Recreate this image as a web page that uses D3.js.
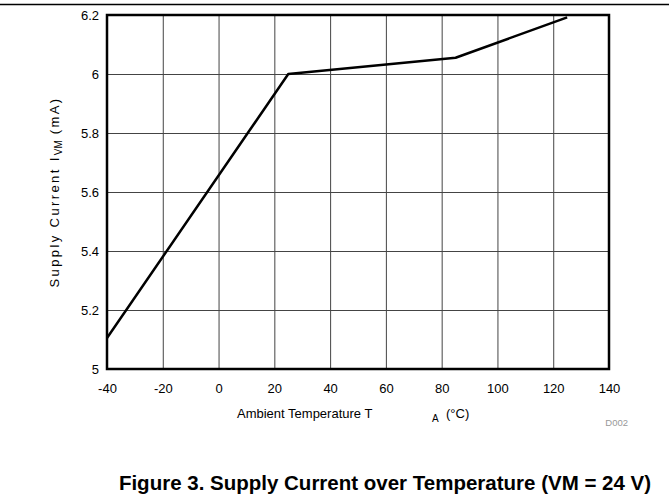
<!DOCTYPE html>
<html>
<head>
<meta charset="utf-8">
<script src="https://cdn.jsdelivr.net/npm/d3@7"></script>
<style>
  body { margin: 0; background: #fff; }
  svg { display: block; font-family: "Liberation Sans", Arial, sans-serif; }
</style>
</head>
<body>
<div id="chart"></div>
<script>
// supply current vs ambient temperature
var temps = [-40, 25, 85, 125];
var current = [5.105, 6.0, 6.055, 6.192];
var xTicks = [-40, -20, 0, 20, 40, 60, 80, 100, 120, 140];
var yTicks = [5, 5.2, 5.4, 5.6, 5.8, 6, 6.2];

render();

function render() {
  var W = 669, H = 504;
  var margin = { top: 15, right: 60, bottom: 135, left: 107 };
  var width = W - margin.left - margin.right;   // 502
  var height = H - margin.top - margin.bottom;  // 354

  var data = temps.map(function (t, i) { return { t: t, v: current[i] }; });

  var root = d3.select("#chart").append("svg")
    .attr("width", W)
    .attr("height", H);

  // rule across top of page
  root.append("line")
    .attr("x1", 0).attr("x2", W)
    .attr("y1", 4.5).attr("y2", 4.5)
    .attr("stroke", "#000")
    .attr("stroke-width", 1.3);

  var svg = root.append("g")
    .attr("transform", "translate(" + margin.left + "," + margin.top + ")");

  var xScale = d3.scaleLinear().domain([-40, 140]).range([0, width]);
  var yScale = d3.scaleLinear().domain([5, 6.2]).range([height, 0]);

  // grid
  svg.append("g")
    .attr("transform", "translate(0," + height + ")")
    .call(d3.axisBottom(xScale).tickValues(xTicks).tickSize(-height).tickFormat(""))
    .call(function (g) {
      g.select(".domain").remove();
      g.selectAll("line").attr("stroke", "#444").attr("stroke-width", 1);
    });
  svg.append("g")
    .call(d3.axisLeft(yScale).tickValues(yTicks).tickSize(-width).tickFormat(""))
    .call(function (g) {
      g.select(".domain").remove();
      g.selectAll("line").attr("stroke", "#444").attr("stroke-width", 1);
    });

  // tick labels
  svg.append("g")
    .attr("transform", "translate(0," + height + ")")
    .call(d3.axisBottom(xScale).tickValues(xTicks).tickSize(0).tickPadding(15)
      .tickFormat(function (d) { return String(d); }))
    .call(function (g) {
      g.select(".domain").remove();
      g.selectAll("text").attr("font-size", 13).attr("fill", "#000")
        .attr("font-family", "Liberation Sans, Arial, sans-serif");
    });
  svg.append("g")
    .call(d3.axisLeft(yScale).tickValues(yTicks).tickSize(0).tickPadding(8)
      .tickFormat(function (d) { return String(+d.toFixed(1)); }))
    .call(function (g) {
      g.select(".domain").remove();
      g.selectAll("text").attr("font-size", 13).attr("fill", "#000")
        .attr("font-family", "Liberation Sans, Arial, sans-serif");
    });

  // frame
  svg.append("rect")
    .attr("width", width)
    .attr("height", height)
    .attr("fill", "none")
    .attr("stroke", "#000")
    .attr("stroke-width", 2.5);

  var line = d3.line()
    .x(function (d) { return xScale(d.t); })
    .y(function (d) { return yScale(d.v); });

  svg.append("path")
    .datum(data)
    .attr("fill", "none")
    .attr("stroke", "#000")
    .attr("stroke-width", 2.5)
    .attr("stroke-linejoin", "round")
    .attr("d", line);

  // x axis title
  var xt = root.append("text")
    .attr("x", 237)
    .attr("y", 418)
    .attr("font-size", 13)
    .attr("fill", "#000");
  xt.append("tspan").text("Ambient Temperature T");
  xt.append("tspan").attr("x", 432).attr("dy", 4).attr("font-size", 10).text("A");
  xt.append("tspan").attr("x", 446).attr("dy", -4).text("(°C)");

  // y axis title
  var yt = root.append("text")
    .attr("transform", "translate(59," + (margin.top + height / 2) + ") rotate(-90)")
    .attr("text-anchor", "middle")
    .attr("font-size", 13)
    .attr("letter-spacing", 2.4)
    .attr("fill", "#000");
  yt.append("tspan").text("Supply Current I");
  yt.append("tspan").attr("dy", 3).attr("font-size", 10).attr("letter-spacing", 0).text("VM");
  yt.append("tspan").attr("dy", -3).text(" (mA)");

  root.append("text")
    .attr("x", 628)
    .attr("y", 426)
    .attr("text-anchor", "end")
    .attr("font-size", 9.5)
    .attr("fill", "#999")
    .text("D002");

  root.append("text")
    .attr("x", 385)
    .attr("y", 490)
    .attr("text-anchor", "middle")
    .attr("font-size", 20.5)
    .attr("font-weight", "bold")
    .attr("fill", "#000")
    .text("Figure 3. Supply Current over Temperature (VM = 24 V)");
}
</script>
</body>
</html>
